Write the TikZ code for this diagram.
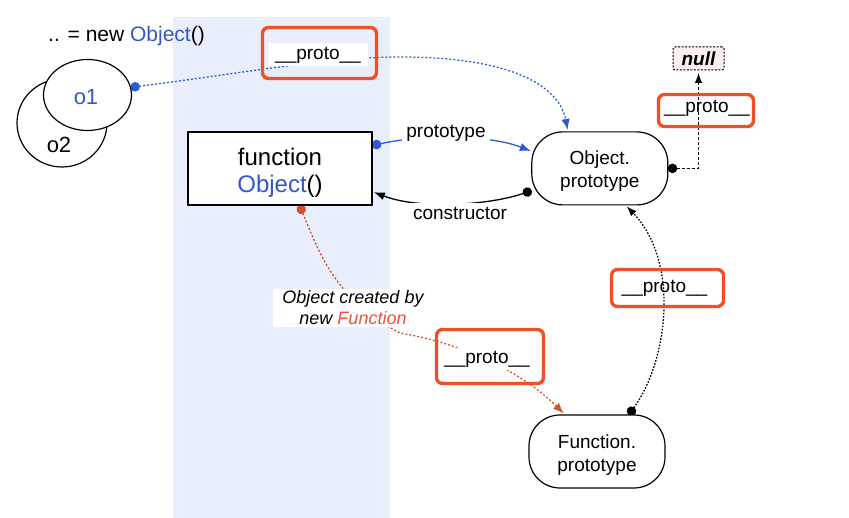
\documentclass[tikz,border=0pt]{standalone}
\usepackage{fontspec}
\setmainfont{Liberation Sans}
\usetikzlibrary{arrows.meta,shapes.geometric}
\definecolor{bandblue}{HTML}{E9EEFC}
\definecolor{jsblue}{HTML}{3557C6}
\definecolor{lineblue}{HTML}{2F5AD6}
\definecolor{frameorange}{HTML}{EF5025}
\definecolor{linered}{HTML}{D4512C}
\definecolor{fnred}{HTML}{E4563F}
\definecolor{nullfill}{HTML}{FBF0EE}
\newcommand{\liftline}[1]{\rule{0pt}{#1}}
\pgfdeclarelayer{bandlayer}
\pgfdeclarelayer{linelayer}
\pgfsetlayers{bandlayer,linelayer,main}
\begin{document}
\begin{tikzpicture}[x=1pt,y=-1pt,
  every node/.style={inner sep=0pt,outer sep=0pt},
  roundbox/.style={draw,line width=1.2pt,fill=white,rounded corners=31pt,minimum width=136pt,minimum height=73pt,align=center,font=\fontsize{19}{23}\selectfont},
  orangeframe/.style={draw=frameorange,line width=3.4pt,rounded corners=6pt},
  protolabel/.style={font=\fontsize{19}{23}\selectfont},
  whitelabel/.style={fill=white,inner sep=4pt},
  bluedots/.style={draw=lineblue,line width=1.3pt,dash pattern=on 2pt off 2pt,{Circle[length=9.5pt,width=9.5pt]}-{Latex[length=11pt,width=8.5pt]},shorten >=2pt},
  blueline/.style={draw=lineblue,line width=1.3pt,{Circle[length=9.5pt,width=9.5pt]}-{Latex[length=11pt,width=8.5pt]},shorten >=1pt},
  blackline/.style={draw=black,line width=1.3pt,{Circle[length=9.5pt,width=9.5pt]}-{Latex[length=11pt,width=8pt]},shorten >=2pt},
  blackdash/.style={draw=black,line width=1.3pt,dash pattern=on 3pt off 2pt,{Circle[length=9.5pt,width=9.5pt]}-{Latex[length=10pt,width=7.5pt]},shorten >=3pt},
  blackdots/.style={draw=black,line width=1.3pt,dash pattern=on 1.6pt off 1.6pt,{Circle[length=9.5pt,width=9.5pt]}-{Latex[length=10pt,width=7.5pt]},shorten >=2pt},
  reddots/.style={draw=linered,line width=1.3pt,dash pattern=on 2pt off 2pt,{Circle[length=9.5pt,width=9.5pt]}-{Latex[length=11pt,width=8.5pt]},shorten >=2pt}
]
\useasboundingbox (0,0) rectangle (849,518);
\begin{pgfonlayer}{bandlayer}
\fill[bandblue] (173,17) rectangle (390,518);
\end{pgfonlayer}

% title and instances
\node[font=\fontsize{21}{25}\selectfont] (title) at (126.5,36.5) {.. = new \textcolor{jsblue}{Object}()};
\node[draw,ellipse,line width=1.2pt,fill=white,minimum width=90pt,minimum height=88pt] (o2) at (62,123) {};
\node[font=\fontsize{22}{26}\selectfont] (o2t) at (59,145) {o2};
\node[draw,ellipse,line width=1.2pt,fill=white,minimum width=88pt,minimum height=71pt] (o1) at (87.5,95) {};
\node[font=\fontsize{22}{26}\selectfont,text=jsblue] (o1t) at (86,97) {o1};

% main boxes
\node[draw,line width=1.2pt,fill=white,minimum width=184pt,minimum height=73pt,align=center,font=\fontsize{24}{27}\selectfont] (funcbox) at (280,168.5) {\liftline{25pt}function\\\textcolor{jsblue}{Object}()};
\node[roundbox] (objproto) at (599.8,168.4) {\liftline{20pt}Object.\\prototype};
\node[roundbox] (funcproto) at (597,451.5) {\liftline{20pt}Function.\\prototype};
\node[draw,line width=1pt,dash pattern=on 2pt off 1.5pt,fill=nullfill,rounded corners=2pt,minimum width=51pt,minimum height=23pt,font=\fontsize{19}{23}\selectfont\bfseries\itshape] (null) at (698.5,58.5) {null};

% __proto__ frames
\node[orangeframe,minimum width=114pt,minimum height=51pt] (p1) at (319.5,53) {};
\node[protolabel,fill=white,minimum width=100pt,minimum height=23pt] (p1t) at (318,55) {\_\_proto\_\_};
\node[orangeframe,minimum width=95pt,minimum height=32pt] (p2) at (706,110.5) {};
\node[protolabel] (p2t) at (707,108.5) {\_\_proto\_\_};
\node[orangeframe,minimum width=107pt,minimum height=54pt] (p3) at (490,356.5) {};
\node[protolabel,fill=white,inner xsep=1pt,inner ysep=3pt] (p3t) at (487,359) {\_\_proto\_\_};
\node[orangeframe,minimum width=112pt,minimum height=37pt] (p4) at (667.5,288) {};
\node[protolabel] (p4t) at (664.5,288.5) {\_\_proto\_\_};

% edge labels
\node[protolabel,whitelabel] (lproto) at (446,133) {prototype};
\node[protolabel,whitelabel] (lcons) at (460,213) {constructor};
\node[font=\fontsize{18}{21}\selectfont\itshape,fill=white,align=center,minimum width=160pt,inner ysep=2pt] (lcreated) at (353,308) {Object created by\\new \textcolor{fnred}{Function}};

% connectors
\begin{pgfonlayer}{linelayer}
\draw[bluedots] (o1.10) .. controls (250,72) and (330,57) .. (400,57) .. controls (520,57) and (560,90) .. (objproto.131);
\draw[blueline] (funcbox.14) .. controls (425,134) and (490,135) .. (objproto.166);
\draw[blackline] (objproto.198) .. controls (490,205) and (420,210) .. (funcbox.-14);
\draw[blackdash] (objproto.east) -| (null.south);
\draw[blackdots] (funcproto.49) .. controls (668,360) and (680,262) .. (objproto.-55);
\draw[reddots] (funcbox.-62.5) .. controls (318,250) and (335,300) .. (400,333) .. controls (470,345) and (525,375) .. (funcproto.131);
\end{pgfonlayer}
\end{tikzpicture}
\end{document}
